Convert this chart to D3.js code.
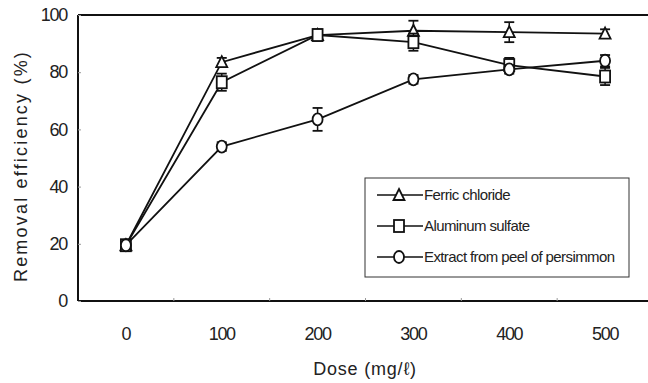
<!DOCTYPE html>
<html lang="en">
<head>
<meta charset="UTF-8">
<title>Removal efficiency vs dose</title>
<script src="https://d3js.org/d3.v7.min.js"></script>
<style>
  body { margin: 0; background: #fff; }
  svg text { font-family: "Liberation Sans", Arial, sans-serif; fill: #222; }
</style>
</head>
<body>
<script>
const doses = ["0", "100", "200", "300", "400", "500"];
const yTicks = [0, 20, 40, 60, 80, 100];

const ferricMean = [19.5, 83.5, 93, 94.5, 94, 93.5];
const ferricErr  = [1, 1.5, 1.5, 3.5, 3.5, 1.5];
const alumMean   = [19.5, 76.5, 93, 90.5, 82.5, 78.5];
const alumErr    = [1, 3, 2, 3, 2.5, 3];
const persMean   = [19.5, 54, 63.5, 77.5, 81, 84];
const persErr    = [1, 1.5, 4, 1.5, 1.5, 2];

const seriesNames = ["Ferric chloride", "Aluminum sulfate", "Extract from peel of persimmon"];
const seriesShapes = ["triangle", "square", "circle"];

const series = [
  { name: seriesNames[0], shape: seriesShapes[0], mean: ferricMean, err: ferricErr },
  { name: seriesNames[1], shape: seriesShapes[1], mean: alumMean, err: alumErr },
  { name: seriesNames[2], shape: seriesShapes[2], mean: persMean, err: persErr }
];

const width = 648, height = 383;
const margin = { top: 15, left: 78, bottom: 82, right: -5 };

const svg = d3.select("body").append("svg")
  .attr("width", width)
  .attr("height", height);

const x = d3.scaleBand()
  .domain(doses)
  .range([margin.left, width - margin.right]);

const y = d3.scaleLinear()
  .domain([0, 100])
  .range([height - margin.bottom, margin.top]);

const cx = d => x(d) + x.bandwidth() / 2;

// frame: left, top and bottom lines
const frame = svg.append("g").attr("stroke", "#111").attr("stroke-width", 2).attr("fill", "none");
frame.append("line").attr("x1", margin.left).attr("x2", margin.left).attr("y1", y(100)).attr("y2", y(0));
frame.append("line").attr("x1", margin.left).attr("x2", width).attr("y1", y(100)).attr("y2", y(100));
frame.append("line").attr("x1", margin.left).attr("x2", width).attr("y1", y(0)).attr("y2", y(0));

// y axis
const yAxis = svg.append("g")
  .attr("transform", `translate(${margin.left},0)`)
  .call(d3.axisLeft(y).tickValues(yTicks).tickSize(-3).tickPadding(11));
yAxis.select(".domain").remove();
yAxis.selectAll(".tick line").attr("stroke", "#999").attr("stroke-width", 1);
yAxis.selectAll(".tick text").attr("font-size", 18).attr("letter-spacing", -1.3);

// x axis
const xAxis = svg.append("g")
  .attr("transform", `translate(0,${y(0)})`)
  .call(d3.axisBottom(x).tickSize(0).tickPadding(26));
xAxis.select(".domain").remove();
xAxis.selectAll(".tick text").attr("font-size", 18).attr("letter-spacing", -1.3);

// small separator ticks between dose bands
svg.append("g")
  .selectAll("line")
  .data(doses.slice(1))
  .join("line")
  .attr("x1", d => x(d)).attr("x2", d => x(d))
  .attr("y1", y(0) - 3).attr("y2", y(0))
  .attr("stroke", "#999");

// axis titles
svg.append("text")
  .attr("transform", `translate(27,${(y(0) + y(100)) / 2 + 8}) rotate(-90)`)
  .attr("text-anchor", "middle")
  .attr("font-size", 18)
  .attr("letter-spacing", 2.2)
  .text("Removal efficiency (%)");

svg.append("text")
  .attr("x", 365).attr("y", 375)
  .attr("text-anchor", "middle")
  .attr("font-size", 18)
  .attr("letter-spacing", 0.8)
  .text("Dose (mg/ℓ)");

// markers
function drawMarker(g, shape, px, py) {
  const m = g.append("g").attr("fill", "#fff").attr("stroke", "#111").attr("stroke-width", 1.8);
  if (shape === "triangle") {
    m.append("path").attr("d", `M${px},${py - 6}L${px + 5.5},${py + 5}L${px - 5.5},${py + 5}Z`);
  } else if (shape === "square") {
    m.append("rect").attr("x", px - 5).attr("y", py - 6).attr("width", 10).attr("height", 12);
  } else {
    m.append("ellipse").attr("cx", px).attr("cy", py).attr("rx", 5).attr("ry", 6);
  }
}

const line = d3.line()
  .x((d, i) => cx(doses[i]))
  .y(d => y(d));

const plot = svg.append("g");

series.forEach(s => {
  plot.append("path")
    .attr("d", line(s.mean))
    .attr("fill", "none")
    .attr("stroke", "#111")
    .attr("stroke-width", 1.8);
});

series.forEach(s => {
  const g = plot.append("g");
  s.mean.forEach((v, i) => {
    const px = cx(doses[i]);
    const lo = y(v - s.err[i]), hi = y(v + s.err[i]);
    g.append("line").attr("x1", px).attr("x2", px).attr("y1", lo).attr("y2", hi)
      .attr("stroke", "#111").attr("stroke-width", 1.5);
    [lo, hi].forEach(yy => {
      g.append("line").attr("x1", px - 5).attr("x2", px + 5).attr("y1", yy).attr("y2", yy)
        .attr("stroke", "#111").attr("stroke-width", 1.8);
    });
    drawMarker(g, s.shape, px, y(v));
  });
});

// legend
const legend = svg.append("g").attr("transform", "translate(365,178)");
legend.append("rect")
  .attr("width", 264).attr("height", 99)
  .attr("fill", "#fff").attr("stroke", "#333").attr("stroke-width", 1);

series.forEach((s, i) => {
  const ly = 17 + i * 31;
  const row = legend.append("g");
  row.append("line").attr("x1", 12).attr("x2", 58).attr("y1", ly).attr("y2", ly)
    .attr("stroke", "#111").attr("stroke-width", 1.5);
  drawMarker(row, s.shape, 34, ly);
  row.append("text")
    .attr("x", 59).attr("y", ly + 5)
    .attr("font-size", 15)
    .attr("letter-spacing", -0.6)
    .text(s.name);
});
</script>
</body>
</html>
